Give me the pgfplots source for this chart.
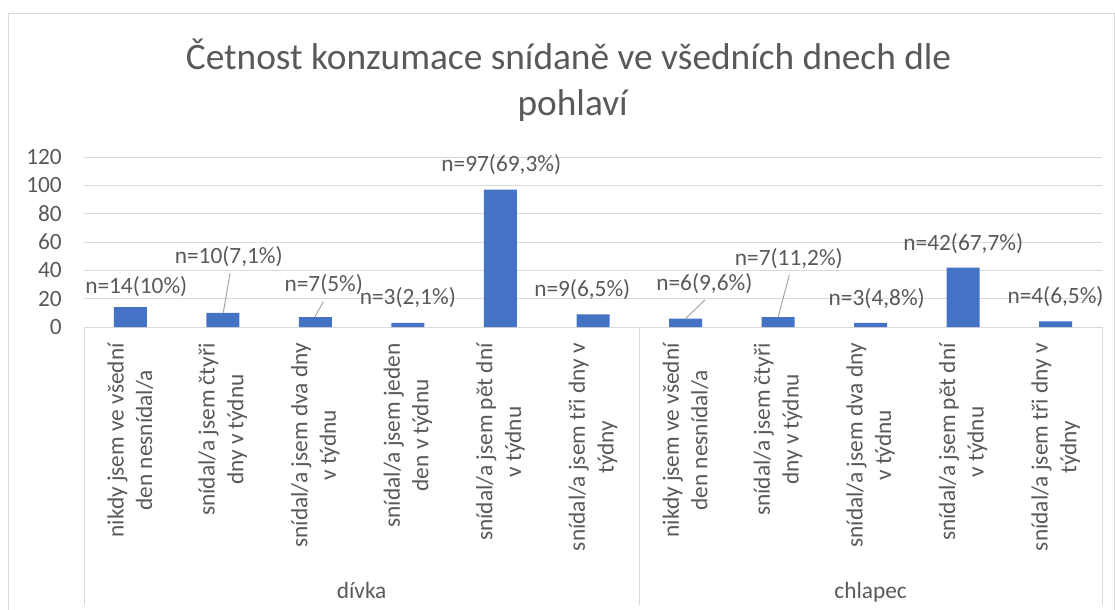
\documentclass[border=0pt]{standalone}
\usepackage{pgfplots}
\pgfplotsset{compat=1.18}
\usepackage{fontspec}
\setmainfont{Carlito}
\definecolor{txt}{HTML}{595959}
\definecolor{gridc}{HTML}{D9D9D9}
\definecolor{barc}{HTML}{4472C4}
\definecolor{leadc}{HTML}{A6A6A6}
\begin{document}
\begin{tikzpicture}
\useasboundingbox (0pt,0pt) rectangle (836.25pt,-457.5pt);
\draw[gridc, line width=0.75pt] (6pt,-460pt) -- (6pt,-10.5pt) -- (835.5pt,-10.5pt) -- (835.5pt,-460pt);
\node[font=\fontsize{28}{34}\selectfont, text=txt, anchor=base] at (426.4pt,-52.5pt) {Četnost konzumace snídaně ve všedních dnech dle};
\node[font=\fontsize{28}{34}\selectfont, text=txt, anchor=base] at (429.5pt,-87pt) {pohlaví};
\begin{axis}[
  at={(63pt,-245.25pt)}, anchor=south west,
  width=763.5pt, height=127.5pt, scale only axis,
  ymin=0, ymax=120, ytick={0,20,...,120},
  xmin=-0.5, xmax=10.5, xtick={0,...,10},
  xticklabels={
    {nikdy jsem ve všední\\den nesnídal/a},
    {snídal/a jsem čtyři\\dny v týdnu},
    {snídal/a jsem dva dny\\v týdnu},
    {snídal/a jsem jeden\\den v týdnu},
    {snídal/a jsem pět dní\\v týdnu},
    {snídal/a jsem tři dny v\\týdny},
    {nikdy jsem ve všední\\den nesnídal/a},
    {snídal/a jsem čtyři\\dny v týdnu},
    {snídal/a jsem dva dny\\v týdnu},
    {snídal/a jsem pět dní\\v týdnu},
    {snídal/a jsem tři dny v\\týdny}},
  ymajorgrids, grid style={gridc, line width=0.75pt},
  axis line style={draw=none},
  major tick length=0pt,
  tick label style={font=\fontsize{17.5}{21.5}\selectfont, text=txt},
  yticklabel style={inner sep=0pt, xshift=-16.5pt},
  xticklabel style={rotate=90, anchor=east, align=center, inner sep=0pt},
  xticklabel shift=12pt,
  /pgf/number format/assume math mode=true,
  clip=false,
]
\addplot[ybar, bar width=24.75pt, fill=barc, draw=none] coordinates {
  (0,14) (1,10) (2,7) (3,3) (4,97) (5,9) (6,6) (7,7) (8,3) (9,42) (10,4)};
% leader lines
\addplot[leadc, line width=0.75pt, mark=none] coordinates {(1.078,37.9) (1.005,10.1)};
\addplot[leadc, line width=0.75pt, mark=none] coordinates {(2.086,17.9) (1.996,7.3)};
\addplot[leadc, line width=0.75pt, mark=none] coordinates {(6.210,19.1) (5.994,5.6)};
\addplot[leadc, line width=0.75pt, mark=none] coordinates {(7.121,36.7) (7.002,7.3)};
% data labels
\addplot[draw=none, mark=none, nodes near coords, point meta=explicit symbolic,
  every node near coord/.append style={anchor=center, inner sep=0pt, text=txt, font=\fontsize{17.5}{21.5}\selectfont}]
  table[x=x, y=y, meta=lab] {
x y lab
0.065 28.6 n=14(10\%)
1.064 49.6 n=10(7,1\%)
2.091 30.2 n=7(5\%)
2.999 20.8 n=3(2,1\%)
4.009 114.4 n=97(69,3\%)
4.884 26.7 n=9(6,5\%)
6.203 30.7 n=6(9,6\%)
7.116 48.5 n=7(11,2\%)
8.066 20.3 n=3(4,8\%)
9.001 59.1 n=42(67,7\%)
9.998 21.4 n=4(6,5\%)
};
\draw[gridc, line width=0.75pt] (axis cs:-0.5,0) -- ++(0pt,-208.5pt);
\draw[gridc, line width=0.75pt] (axis cs:5.5,0) -- ++(0pt,-208.5pt);
\draw[gridc, line width=0.75pt] (axis cs:10.5,0) -- ++(0pt,-208.5pt);
\node[text=txt, font=\fontsize{17.5}{21.5}\selectfont, anchor=base] at ([yshift=-203.25pt]axis cs:2.5,0) {dívka};
\node[text=txt, font=\fontsize{17.5}{21.5}\selectfont, anchor=base] at ([yshift=-203.25pt]axis cs:8,0) {chlapec};
\end{axis}
\end{tikzpicture}
\end{document}
